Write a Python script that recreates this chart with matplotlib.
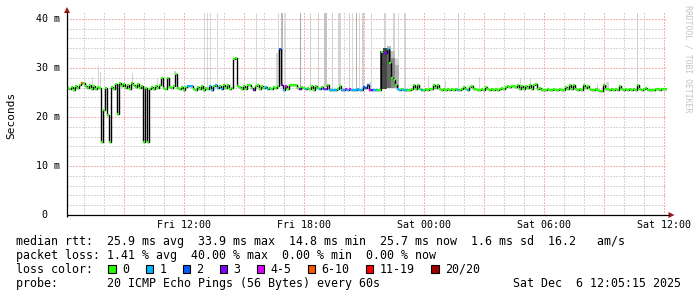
import numpy as np
import matplotlib
matplotlib.use('Agg')
import matplotlib.pyplot as plt
from matplotlib.transforms import blended_transform_factory
from matplotlib.patches import Rectangle, Polygon

W, H = 697, 297
MONO = 'DejaVu Sans Mono'

# ---------------- data ----------------
# time axis: hours since Fri 00:00
t_start = 6.135
t_end = 36.135
step_h = 0.1

median_ms = [
    26.0, 25.6, 26.2, 25.5, 26.3, 26.0, 26.6, 27.0, 27.0, 26.4,
    26.0, 26.6, 25.8, 26.4, 25.7, 26.2, 26.0, 14.8, 21.4, 26.0,
    20.4, 14.8, 26.2, 25.8, 26.8, 20.6, 26.9, 26.3, 26.8, 26.0,
    26.5, 25.8, 27.0, 26.6, 26.2, 26.8, 26.0, 26.4, 14.8, 26.0,
    14.8, 25.8, 26.2, 25.6, 26.3, 26.0, 26.5, 27.9, 26.0, 25.8,
    27.9, 26.2, 26.0, 26.4, 28.7, 26.0, 25.6, 26.2, 25.5, 26.1,
    26.4, 26.4, 26.4, 25.8, 25.5, 26.2, 25.6, 26.3, 25.5, 26.0,
    25.7, 26.3, 25.5, 26.4, 26.6, 26.0, 26.4, 25.8, 26.5, 26.0,
    26.5, 25.8, 26.0, 31.8, 32.1, 26.4, 26.2, 25.6, 26.3, 25.8,
    26.5, 26.5, 25.9, 25.5, 26.3, 26.5, 25.8, 26.4, 26.0, 26.2,
    25.6, 26.0, 25.7, 26.2, 26.0, 26.4, 33.9, 26.5, 25.5, 26.3,
    25.8, 26.5, 26.5, 26.5, 26.5, 26.0, 25.6, 26.2, 26.0, 25.6,
    26.0, 25.8, 26.3, 25.5, 26.4, 26.0, 25.7, 26.2, 25.6, 25.8,
    26.6, 25.5, 25.5, 25.4, 25.4, 25.6, 26.3, 25.5, 25.5, 25.8,
    25.5, 25.6, 25.5, 25.5, 25.5, 25.6, 25.5, 25.5, 26.2, 26.0,
    26.5, 25.5, 25.5, 25.5, 25.5, 25.5, 25.5, 33.3, 33.1, 33.1,
    33.9, 31.0, 28.0, 27.5, 26.5, 25.8, 25.5, 25.6, 25.5, 25.4,
    25.5, 25.5, 25.6, 26.5, 25.8, 26.6, 25.7, 25.5, 25.5, 25.6,
    25.5, 25.6, 25.6, 26.6, 25.9, 26.5, 25.7, 25.5, 25.6, 25.5,
    25.6, 25.5, 25.6, 25.5, 25.6, 25.5, 25.5, 25.6, 26.2, 25.8,
    25.5, 26.2, 26.4, 25.6, 25.8, 25.5, 25.5, 25.6, 25.5, 26.2,
    25.6, 25.5, 25.6, 25.5, 25.8, 25.5, 25.6, 26.0, 25.7, 26.2,
    26.3, 26.2, 26.3, 26.4, 26.2, 26.6, 25.6, 26.3, 25.7, 26.4,
    26.0, 26.5, 25.8, 26.6, 26.8, 25.7, 26.0, 25.5, 25.5, 25.5,
    25.6, 25.5, 25.5, 25.6, 25.5, 25.5, 25.6, 25.5, 25.5, 26.2,
    25.6, 26.5, 25.8, 26.6, 25.6, 25.5, 25.6, 25.5, 26.6, 25.9,
    26.3, 25.6, 25.5, 25.5, 25.6, 25.5, 25.2, 25.3, 26.6, 25.8,
    25.6, 25.5, 25.6, 25.5, 25.6, 25.5, 26.4, 25.6, 25.5, 25.6,
    25.5, 25.6, 25.5, 25.6, 25.5, 26.6, 25.8, 25.5, 25.6, 26.0,
    25.5, 25.4, 25.5, 25.5, 25.6, 25.6, 25.5, 25.6, 25.7, 25.7,
]

# (first index, last index, loss class) ; class 0 everywhere else
loss_ranges = [
    (7, 7, 5), (60, 62, 1), (71, 72, 1), (74, 75, 1), (77, 77, 1), (93, 93, 3),
    (99, 100, 1), (106, 106, 2), (107, 107, 3), (108, 108, 1), (109, 109, 4),
    (116, 116, 3), (119, 119, 1), (126, 126, 1), (128, 128, 2), (129, 129, 4),
    (131, 134, 1), (137, 138, 1), (139, 139, 4), (140, 140, 1), (141, 141, 4),
    (142, 147, 1), (148, 150, 2), (151, 151, 4), (152, 152, 3), (153, 154, 1),
    (158, 159, 3), (160, 160, 1), (165, 166, 1), (168, 169, 1), (177, 177, 1),
    (195, 195, 1), (200, 200, 1),
]

loss_labels = ['0', '1', '2', '3', '4-5', '6-10', '11-19', '20/20']
loss_colors = ['#26ff00', '#00b8ff', '#0059ff', '#7e00ff', '#dd00ff',
               '#ff5500', '#ff0000', '#a00000']

# tall smoke spikes (hour, width in px, gray)
spike_hours = [13.00, 13.15, 13.30, 13.65, 15.60, 16.70, 16.89, 17.04, 17.80,
               18.30, 18.69, 19.06, 19.39, 19.76, 20.27, 20.42, 20.62, 20.75,
               20.91, 21.34, 22.03, 22.48, 22.71, 23.05, 25.70, 34.65]
spike_width = [1, 1, 1, 1, 1, 1.5, 2.5, 1.5, 1, 1, 1, 2.5, 1, 2.5, 1.5, 1, 1, 1,
               2, 1, 1.5, 2, 1.5, 2, 1, 1]
spike_gray = ['#d8d8d8', '#d8d8d8', '#d8d8d8', '#d8d8d8', '#d8d8d8', '#d8d8d8',
              '#b8b8b8', '#dcdcdc', '#a8a8a8', '#d0d0d0', '#d0d0d0', '#c4c4c4',
              '#d0d0d0', '#d4d4d4', '#d4d4d4', '#d8d8d8', '#b0b0b0', '#d8d8d8',
              '#d0d0d0', '#d8d8d8', '#d4d4d4', '#d4d4d4', '#d8d8d8', '#d4d4d4',
              '#d0d0d0', '#d0d0d0']

# low smoke (hour, width px, top ms)
low_hours = [7.395, 7.72, 7.785, 9.41, 10.66, 11.535, 16.63, 21.285, 24.23,
             25.06, 26.74, 28.82, 29.31, 32.635, 33.135]
low_width = [1, 1.5, 1, 1.5, 1.5, 2, 2.5, 2, 1, 1, 1, 1, 1, 1, 3]
low_top = [28.2, 30.4, 29.2, 28.9, 27.9, 29.4, 33.0, 27.2, 28.3, 27.4, 28.2,
           28.0, 28.0, 26.8, 27.2]

# dense smoke around the Fri 22:00 hump (hour, width px, bottom, top, gray)
hump_hours = [21.86, 22.035, 22.235, 22.435, 22.635, 22.235, 22.435, 22.635]
hump_width = [3, 4, 4, 4, 4, 4, 4, 4]
hump_bottom = [25.6, 25.6, 26.0, 26.0, 26.0, 33.5, 32.0, 30.5]
hump_top = [33.5, 34.0, 33.5, 32.0, 30.5, 34.5, 33.5, 32.0]
hump_gray = ['#585858', '#484848', '#686868', '#888888', '#b0b0b0',
             '#b8b8b8', '#c0c0c0', '#d8d8d8']

ytick_vals = [0, 10, 20, 30, 40]
ytick_labels = [' 0', '10 m', '20 m', '30 m', '40 m']
xlabel_hours = [12, 18, 24, 30, 36]
xlabel_text = ['Fri 12:00', 'Fri 18:00', 'Sat 00:00', 'Sat 06:00', 'Sat 12:00']

legend_line1 = 'median rtt:  25.9 ms avg  33.9 ms max  14.8 ms min  25.7 ms now  1.6 ms sd  16.2   am/s'
legend_line2 = 'packet loss: 1.41 % avg  40.00 % max  0.00 % min  0.00 % now'
legend_line3 = 'loss color:'
legend_line4 = 'probe:       20 ICMP Echo Pings (56 Bytes) every 60s'
stamp = 'Sat Dec  6 12:05:15 2025'

# ---------------- figure ----------------
fig = plt.figure(figsize=(W / 100, H / 100), dpi=100)
fig.patch.set_facecolor('white')

y_top = 41.2
ax = fig.add_axes([67 / W, (H - 215) / H, 600 / W, 202 / H])
ax.set_xlim(t_start, t_end)
ax.set_ylim(0, y_top)
ax.axis('off')

px_h = (t_end - t_start) / 600.0  # hours per pixel

# grid (dotted, crisp)
minor_h = [h for h in range(7, 37) if h % 3 != 0]
major_h = [h for h in range(9, 37, 3)]
gkw = dict(lw=0.72, linestyles=(0, (1.4, 1.4)), zorder=0, antialiased=False)
ax.vlines(minor_h, 0, y_top, colors='#d6d6d6', **gkw)
ax.vlines(major_h, 0, y_top, colors='#f4b4b4', **gkw)
minor_y = [v for v in range(2, 41, 2) if v % 10 != 0]
ax.hlines(minor_y, t_start, t_end, colors='#d6d6d6', **gkw)
ax.hlines([10, 20, 30, 40], t_start, t_end, colors='#f4b4b4', **gkw)

n = len(median_ms)
med = np.array(median_ms)
t0 = t_start + step_h * np.arange(n)
t1 = t0 + step_h


def med_at(h):
    i = int(np.clip((h - t_start) / step_h, 0, n - 1))
    return med[i]


# smoke
for h, w, top in zip(low_hours, low_width, low_top):
    b = med_at(h)
    ax.bar(h, top - b, bottom=b, width=w * px_h, color='#d4d4d4', lw=0, zorder=1)
for h, w, g in zip(spike_hours, spike_width, spike_gray):
    b = med_at(h) + 0.3
    ax.bar(h, 45 - b, bottom=b, width=w * px_h, color=g, lw=0, zorder=1)
for h, w, b, tp, g in zip(hump_hours, hump_width, hump_bottom, hump_top, hump_gray):
    ax.bar(h, tp - b, bottom=b, width=w * px_h, color=g, lw=0, zorder=1)

# median line
loss = np.zeros(n, dtype=int)
for a, b, c in loss_ranges:
    loss[a:b + 1] = c
edges = np.append(t0, t1[-1])
ax.stairs(med, edges, baseline=None, color='#000000', lw=1.0, zorder=3)
ax.hlines(med, t0, t1, colors=[loss_colors[c] for c in loss], lw=1.6, zorder=4)

# ---------------- overlay in pixel coordinates ----------------
lay = fig.add_axes([0, 0, 1, 1], zorder=5)
lay.set_xlim(0, W)
lay.set_ylim(H, 0)
lay.axis('off')
lay.patch.set_alpha(0)

lay.plot([67, 669], [215, 215], color='black', lw=0.9, solid_capstyle='butt')
lay.plot([67, 67], [217, 12], color='black', lw=0.9, solid_capstyle='butt')
lay.add_patch(Polygon([(668.5, 212), (668.5, 218), (674.5, 215)], closed=True,
                      facecolor='#a01818', edgecolor='none'))
lay.add_patch(Polygon([(64, 13), (70, 13), (67, 7)], closed=True,
                      facecolor='#a01818', edgecolor='none'))

ytr = blended_transform_factory(lay.transData, ax.transData)
for v, s in zip(ytick_vals, ytick_labels):
    lay.text(36, v, s, transform=ytr, ha='left', va='center',
             family=MONO, fontsize=7.2, color='black')

xtr = blended_transform_factory(ax.transData, lay.transData)
for h, s in zip(xlabel_hours, xlabel_text):
    lay.text(h, 228, s, transform=xtr, ha='center', va='baseline',
             family=MONO, fontsize=7.2, color='black')

lay.text(11, 115, 'Seconds', rotation=90, ha='center', va='center',
         family=MONO, fontsize=8, color='black')
lay.text(688, 59, 'RRDTOOL / TOBI OETIKER', rotation=270, ha='center', va='center',
         family=MONO, fontsize=5.9, color='#c4c4c4')

fs = 8.4
lay.text(16, 245, legend_line1, ha='left', va='baseline', family=MONO, fontsize=fs)
lay.text(16, 259, legend_line2, ha='left', va='baseline', family=MONO, fontsize=fs)
lay.text(16, 273, legend_line3, ha='left', va='baseline', family=MONO, fontsize=fs)
lay.text(16, 287, legend_line4, ha='left', va='baseline', family=MONO, fontsize=fs)
lay.text(513, 287, stamp, ha='left', va='baseline', family=MONO, fontsize=fs)

box_x = [108.3, 145.7, 182.5, 219.5, 256.7, 307.5, 365.7, 431.0]
for bx, lab, col in zip(box_x, loss_labels, loss_colors):
    lay.add_patch(Rectangle((bx, 265.3), 7.5, 7.5, facecolor=col,
                            edgecolor='black', lw=0.8))
    lay.text(bx + 14, 273, lab, ha='left', va='baseline', family=MONO, fontsize=fs)

fig.savefig('out.png', dpi=100, facecolor='white')
